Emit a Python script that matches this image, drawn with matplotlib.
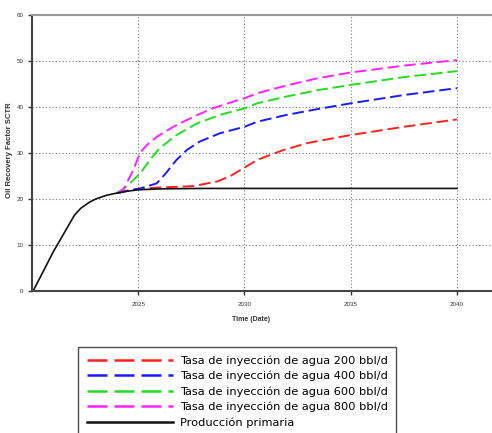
import matplotlib
matplotlib.use("Agg")
import matplotlib.pyplot as plt

plt.rcParams['font.family'] = ['Liberation Sans', 'DejaVu Sans']

# Recovery factor curves (year, %)
years_primary = [2020.05, 2020.5, 2021.0, 2021.5, 2022.0, 2022.3, 2022.7, 2023.0, 2023.5,
                 2024.0, 2024.5, 2025.0, 2026.0, 2028.0, 2030.0, 2035.0, 2040.0]
rf_primary = [0.0, 4.0, 8.5, 12.5, 16.5, 18.0, 19.3, 20.0, 20.8,
              21.3, 21.7, 22.0, 22.2, 22.3, 22.3, 22.3, 22.3]

years_200 = [2024.0, 2024.5, 2025.0, 2026.0, 2027.6, 2028.7, 2029.3, 2030.0, 2030.6,
             2031.8, 2033.0, 2035.0, 2037.5, 2040.0]
rf_200 = [21.3, 21.8, 22.2, 22.5, 22.8, 23.8, 24.9, 26.8, 28.5,
          30.6, 32.2, 33.9, 35.7, 37.3]

years_400 = [2024.0, 2024.5, 2025.1, 2025.87, 2026.3, 2026.8, 2027.3, 2027.9, 2028.85,
             2030.0, 2030.6, 2032.0, 2033.5, 2035.0, 2037.5, 2040.0]
rf_400 = [21.3, 21.8, 22.3, 23.4, 25.6, 28.5, 30.7, 32.5, 34.3,
          35.7, 36.8, 38.3, 39.6, 40.8, 42.6, 44.1]

years_600 = [2024.0, 2024.45, 2025.1, 2025.55, 2026.0, 2026.8, 2027.75, 2028.85, 2030.0,
             2030.6, 2032.0, 2033.5, 2035.0, 2037.5, 2040.0]
rf_600 = [21.3, 22.7, 25.6, 28.5, 31.0, 33.9, 36.4, 38.3, 39.7,
          40.8, 42.3, 43.7, 44.8, 46.5, 47.8]

years_800 = [2024.0, 2024.3, 2024.77, 2025.08, 2025.4, 2025.87, 2026.65, 2027.6, 2028.5,
             2029.5, 2030.0, 2030.6, 2032.0, 2033.5, 2035.0, 2037.5, 2040.0]
rf_800 = [21.3, 22.0, 26.3, 30.0, 31.7, 33.5, 35.7, 37.9, 39.7,
          41.2, 41.9, 43.0, 44.7, 46.3, 47.5, 49.0, 50.2]

labels = ['Tasa de inyección de agua 200 bbl/d',
          'Tasa de inyección de agua 400 bbl/d',
          'Tasa de inyección de agua 600 bbl/d',
          'Tasa de inyección de agua 800 bbl/d',
          'Producción primaria']

fig = plt.figure(figsize=(4.92, 4.33), dpi=100)
ax = fig.add_axes([32 / 492, 1 - 291 / 433, 460 / 492, 276 / 433])

dash = (0, (6, 2.5))
h200, = ax.plot(years_200, rf_200, color='#ff2020', lw=1.4, ls=dash)
h400, = ax.plot(years_400, rf_400, color='#1a1aff', lw=1.4, ls=dash)
h600, = ax.plot(years_600, rf_600, color='#22dd22', lw=1.4, ls=dash)
h800, = ax.plot(years_800, rf_800, color='#ff22ff', lw=1.4, ls=dash)
hprim, = ax.plot(years_primary, rf_primary, color='#111111', lw=1.2)

ax.set_xlim(2020, 2041.65)
ax.set_ylim(0, 60)
ax.set_xticks([2025, 2030, 2035, 2040])
ax.set_yticks(range(0, 61, 10))
ax.grid(True, color='#777777', ls=(0, (1, 2)), lw=0.8)
ax.tick_params(labelsize=4.5, length=3, width=1, colors='#333333')
ax.tick_params(axis='x', pad=5)
ax.tick_params(axis='y', pad=3)

ax.spines['right'].set_visible(False)
ax.spines['top'].set_color('#999999')
ax.spines['top'].set_linewidth(1.5)
for s in ('left', 'bottom'):
    ax.spines[s].set_color('#444444')
    ax.spines[s].set_linewidth(1.5)

ax.set_xlabel('Time (Date)', fontsize=5, fontweight='bold', color='#333333')
ax.set_ylabel('Oil Recovery Factor SCTR', fontsize=5.6, fontweight='bold', color='#333333')
ax.xaxis.set_label_coords(0.476, -0.09)
ax.yaxis.set_label_coords(-0.042, 0.51)

leg = fig.legend([h200, h400, h600, h800, hprim], labels,
                 loc='upper left', bbox_to_anchor=(78 / 492, 1 - 347 / 433),
                 prop={'family': 'DejaVu Sans', 'size': 8.2},
                 handlelength=7.6, handletextpad=0.6,
                 labelspacing=0.43, borderaxespad=0, borderpad=0.75,
                 frameon=True, fancybox=False)
leg.get_frame().set_edgecolor('#222222')
leg.get_frame().set_linewidth(1.0)
for line in leg.get_lines():
    line.set_linewidth(1.8)
    if line.get_linestyle() != '-':
        line.set_linestyle((0, (8, 2.8)))

fig.savefig('out.png', dpi=100)
